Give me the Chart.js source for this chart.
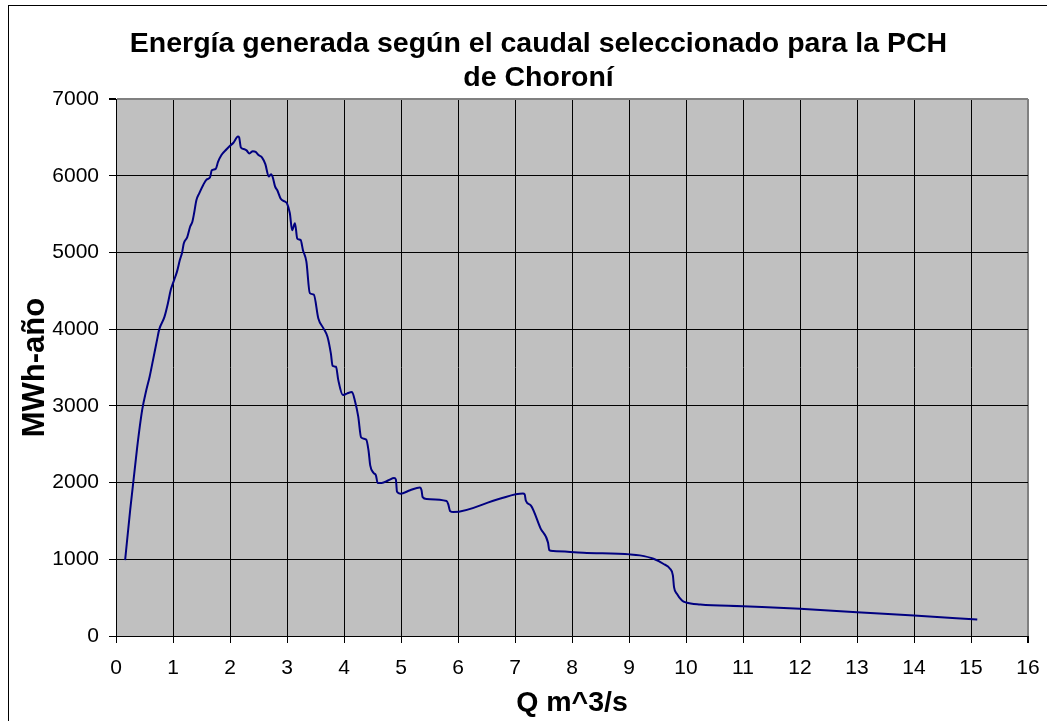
<!DOCTYPE html>
<html>
<head>
<meta charset="utf-8">
<script src="https://cdn.jsdelivr.net/npm/chart.js@4"></script>
<style>
  html, body { margin: 0; padding: 0; background: #fff; overflow: hidden; }
  #frame { position: absolute; left: 8px; top: 5px; width: 2000px; height: 2000px; border: 1px solid #000; }
  #wrap { position: absolute; left: 0; top: 0; width: 1047px; height: 721px; }
</style>
</head>
<body>
<div id="frame"></div>
<div id="wrap"><canvas id="energyChart" width="1047" height="721"></canvas></div>
<script>
// 図のテキスト
const titleLines = ['Energía generada según el caudal seleccionado para la PCH', 'de Choroní'];
const xTitle = 'Q m^3/s';
const yTitle = 'MWh-año';

// 目盛り
const xTicks = [0, 1, 2, 3, 4, 5, 6, 7, 8, 9, 10, 11, 12, 13, 14, 15, 16];
const yTicks = [0, 1000, 2000, 3000, 4000, 5000, 6000, 7000];

// 曲線のデータ
const caudal = [
    0.16, 0.25, 0.37, 0.46, 0.53, 0.59, 0.65, 0.72, 0.76, 0.85, 0.91, 0.96, 1.01, 1.07, 1.12, 1.16,
    1.19, 1.25, 1.30, 1.34, 1.37, 1.41, 1.46, 1.53, 1.59, 1.65, 1.68, 1.75, 1.79, 1.85, 1.94, 2.00,
    2.06, 2.14, 2.16, 2.19, 2.23, 2.29, 2.34, 2.40, 2.45, 2.50, 2.56, 2.62, 2.68, 2.72, 2.75, 2.79,
    2.83, 2.89, 2.97, 3.00, 3.05, 3.09, 3.14, 3.18, 3.24, 3.28, 3.34, 3.40, 3.47, 3.55, 3.64, 3.71,
    3.77, 3.80, 3.86, 3.90, 3.98, 4.05, 4.14, 4.19, 4.25, 4.30, 4.39, 4.43, 4.46, 4.52, 4.56, 4.59,
    4.66, 4.78, 4.88, 4.91, 4.93, 4.99, 5.16, 5.33, 5.36, 5.38, 5.45, 5.80, 5.83, 5.86, 5.92, 6.73,
    7.14, 7.17, 7.19, 7.28, 7.45, 7.58, 7.60, 7.67, 8.20, 9.02, 9.19, 9.43, 9.60, 9.72, 9.77, 9.79,
    9.84, 9.93, 10.00, 10.25, 11.00, 12.00, 13.00, 14.00, 15.11
];
const energia = [
    990, 1650, 2450, 2950, 3200, 3380, 3600, 3860, 4000, 4160, 4335, 4510, 4620, 4750, 4900, 5000,
    5120, 5200, 5335, 5400, 5510, 5680, 5770, 5880, 5950, 5980, 6070, 6090, 6180, 6270, 6345, 6390,
    6430, 6510, 6500, 6370, 6350, 6330, 6290, 6320, 6310, 6270, 6240, 6150, 5990, 6020, 5980, 5860,
    5810, 5700, 5660, 5640, 5510, 5290, 5380, 5180, 5160, 5030, 4880, 4470, 4450, 4140, 4010, 3900,
    3680, 3520, 3510, 3335, 3140, 3160, 3180, 3070, 2860, 2590, 2560, 2420, 2225, 2125, 2095, 1995,
    1995, 2030, 2060, 2040, 1880, 1855, 1900, 1935, 1900, 1810, 1785, 1760, 1715, 1630, 1615, 1790,
    1856, 1847, 1765, 1700, 1400, 1215, 1120, 1107, 1086, 1064, 1051, 1007, 942, 877, 790, 637,
    551, 463, 437, 411, 387, 355, 311, 268, 215
];

const FONT = '"Liberation Sans", Arial, sans-serif';

// プロット領域の背景と上のタイトル
const chartDeco = {
    id: 'chartDeco',
    beforeDraw(chart) {
        const { ctx, chartArea: a } = chart;
        ctx.save();
        ctx.fillStyle = '#C0C0C0';
        ctx.fillRect(a.left, a.top, a.right - a.left, a.bottom - a.top);
        ctx.restore();
    },
    afterDraw(chart) {
        const { ctx } = chart;
        ctx.save();
        ctx.fillStyle = '#000';
        ctx.font = 'bold 28.5px ' + FONT;
        ctx.textAlign = 'center';
        ctx.textBaseline = 'middle';
        ctx.fillText(titleLines[0], 538.5, 44.5);
        ctx.fillText(titleLines[1], 538.5, 78);
        ctx.restore();
    }
};

function createEnergyChart() {
    const context = document.getElementById('energyChart').getContext('2d');
    const points = caudal.map((q, i) => ({ x: q, y: energia[i] }));

    new Chart(context, {
        type: 'line',
        data: {
            datasets: [{
                data: points,
                borderColor: '#000080',
                borderWidth: 2,
                cubicInterpolationMode: 'monotone',
                fill: false,
                pointRadius: 0,
                pointHoverRadius: 0
            }]
        },
        options: {
            responsive: false,
            animation: false,
            layout: { padding: { top: 99, left: 0, right: 19, bottom: 0 } },
            plugins: {
                legend: { display: false },
                tooltip: { enabled: false },
                title: { display: false }
            },
            scales: {
                x: {
                    type: 'linear',
                    min: xTicks[0],
                    max: xTicks[xTicks.length - 1],
                    afterBuildTicks: scale => { scale.ticks = xTicks.map(v => ({ value: v })); },
                    afterFit: scale => {
                        scale.height = 85;
                        scale.paddingLeft = 0;
                        scale.paddingRight = 0;
                    },
                    ticks: {
                        color: '#000', font: { family: FONT, size: 21 }, padding: 13,
                        maxRotation: 0, autoSkip: false, callback: v => String(v)
                    },
                    grid: {
                        color: c => (c.tick && c.tick.value === 16 ? '#808080' : '#000'),
                        lineWidth: c => (c.tick && c.tick.value === 16 ? 2 : 1),
                        tickColor: '#000',
                        tickLength: 7
                    },
                    border: { color: '#000', width: 1 },
                    title: {
                        display: true,
                        text: xTitle,
                        color: '#000',
                        font: { family: FONT, size: 28.5, weight: 'bold', lineHeight: 1.2 },
                        padding: { top: 0, bottom: 1 }
                    }
                },
                y: {
                    min: yTicks[0],
                    max: yTicks[yTicks.length - 1],
                    afterBuildTicks: scale => { scale.ticks = yTicks.map(v => ({ value: v })); },
                    afterFit: scale => { scale.width = 116; },
                    ticks: { color: '#000', font: { family: FONT, size: 21 }, padding: 10, callback: v => String(v) },
                    grid: {
                        color: c => (c.tick && c.tick.value === 7000 ? '#808080' : '#000'),
                        lineWidth: c => (c.tick && c.tick.value === 7000 ? 2 : 1),
                        tickColor: '#000',
                        tickLength: 7
                    },
                    border: { color: '#000', width: 1 },
                    title: {
                        display: true,
                        text: yTitle,
                        color: '#000',
                        font: { family: FONT, size: 31, weight: 'bold', lineHeight: 1.2 },
                        padding: { top: 16.5, bottom: 0 }
                    }
                }
            }
        },
        plugins: [chartDeco]
    });
}

createEnergyChart();
</script>
</body>
</html>
